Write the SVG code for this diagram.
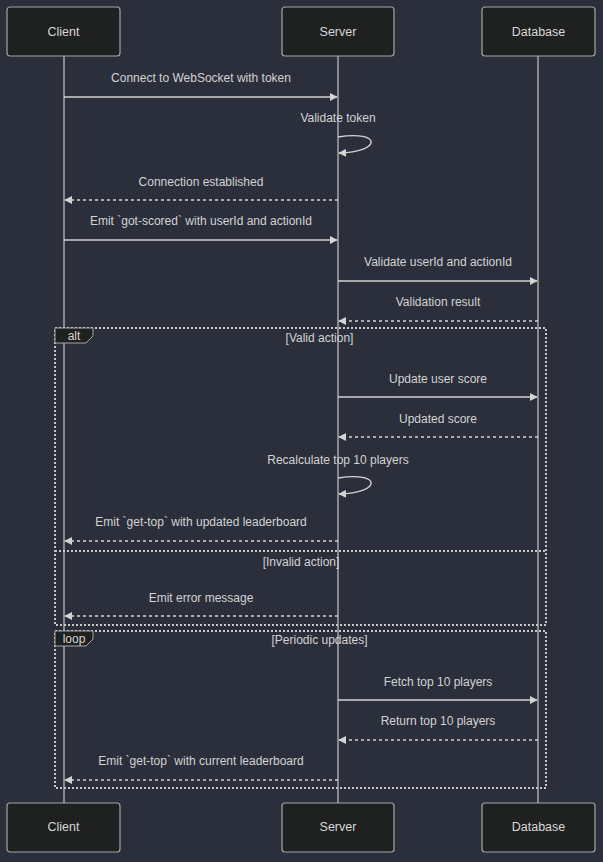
<svg xmlns="http://www.w3.org/2000/svg" width="603" height="862" viewBox="0 0 603 862">
  <style>
    .actor rect { fill: #1f2020; stroke: #a6a6a6; stroke-width: 1.2; }
    .actor text { fill: #d8d8d8; font-family: "Liberation Sans", Arial, sans-serif; font-size: 12.5px; text-anchor: middle; dominant-baseline: central; }
    .life { stroke: #a9a9a9; stroke-width: 1.5; }
    .msg { stroke: #d3d3d3; stroke-width: 1.4; fill: none; }
    .dash { stroke-dasharray: 3 3; }
    .lbl { fill: #d3d3d3; font-family: "Liberation Sans", Arial, sans-serif; font-size: 12px; text-anchor: middle; dominant-baseline: central; }
    .frame { fill: none; stroke: #c8c8c8; stroke-width: 2; stroke-dasharray: 2 2; }
    .tag { fill: #1f2020; stroke: #a6a6a6; stroke-width: 1; }
  </style>
  <defs>
    <marker id="head" viewBox="0 0 10 10" refX="9" refY="5" markerWidth="8" markerHeight="8" markerUnits="userSpaceOnUse" orient="auto">
      <path d="M0,0 L10,5 L0,10 z" fill="#d3d3d3"/>
    </marker>
  </defs>
  <rect width="603" height="862" fill="#2a2f3b"/>

  <!-- lifelines -->
  <g id="lifelines">
    <line class="life" x1="64" y1="56" x2="64" y2="803"/>
    <line class="life" x1="338" y1="56" x2="338" y2="803"/>
    <line class="life" x1="538" y1="56" x2="538" y2="803"/>
  </g>

  <!-- combined fragments -->
  <g id="alt-frame">
    <rect class="frame" x="55" y="328" width="491" height="297"/>
    <line class="frame" x1="55" y1="551" x2="546" y2="551"/>
    <path class="tag" d="M55,328 H93 V336 L86,343 H55 z"/>
    <text class="lbl" x="74" y="336">alt</text>
    <text class="lbl" x="319.5" y="338">[Valid action]</text>
    <text class="lbl" x="301" y="562">[Invalid action]</text>
  </g>
  <g id="loop-frame">
    <rect class="frame" x="55" y="631" width="491" height="157"/>
    <path class="tag" d="M55,631 H93 V639 L86,646 H55 z"/>
    <text class="lbl" x="74" y="639">loop</text>
    <text class="lbl" x="319.5" y="640">[Periodic updates]</text>
  </g>

  <!-- participants -->
  <g id="client-top" class="actor"><rect x="7" y="7" width="113" height="49" rx="3"/><text x="63.5" y="32">Client</text></g>
  <g id="server-top" class="actor"><rect x="282" y="7" width="112" height="49" rx="3"/><text x="338" y="32">Server</text></g>
  <g id="database-top" class="actor"><rect x="482" y="7" width="113" height="49" rx="3"/><text x="538.5" y="32">Database</text></g>
  <g id="client-bottom" class="actor"><rect x="7" y="803" width="113" height="49" rx="3"/><text x="63.5" y="827">Client</text></g>
  <g id="server-bottom" class="actor"><rect x="282" y="803" width="112" height="49" rx="3"/><text x="338" y="827">Server</text></g>
  <g id="database-bottom" class="actor"><rect x="482" y="803" width="113" height="49" rx="3"/><text x="538.5" y="827">Database</text></g>

  <!-- messages -->
  <g id="connectors">
    <line class="msg" x1="64" y1="97" x2="337" y2="97" marker-end="url(#head)"/>
    <path class="msg" d="M338,137 C382,130 382,152 339,153" marker-end="url(#head)"/>
    <line class="msg dash" x1="338" y1="200" x2="65" y2="200" marker-end="url(#head)"/>
    <line class="msg" x1="64" y1="240" x2="337" y2="240" marker-end="url(#head)"/>
    <line class="msg" x1="338" y1="281" x2="537" y2="281" marker-end="url(#head)"/>
    <line class="msg dash" x1="538" y1="321" x2="339" y2="321" marker-end="url(#head)"/>
    <line class="msg" x1="338" y1="397" x2="537" y2="397" marker-end="url(#head)"/>
    <line class="msg dash" x1="538" y1="437" x2="339" y2="437" marker-end="url(#head)"/>
    <path class="msg" d="M338,478 C382,471 382,493 339,494" marker-end="url(#head)"/>
    <line class="msg dash" x1="338" y1="541" x2="65" y2="541" marker-end="url(#head)"/>
    <line class="msg dash" x1="338" y1="616" x2="65" y2="616" marker-end="url(#head)"/>
    <line class="msg" x1="338" y1="700" x2="537" y2="700" marker-end="url(#head)"/>
    <line class="msg dash" x1="538" y1="740" x2="339" y2="740" marker-end="url(#head)"/>
    <line class="msg dash" x1="338" y1="780" x2="65" y2="780" marker-end="url(#head)"/>
  </g>

  <!-- message labels -->
  <g id="message-labels">
    <text class="lbl" x="201" y="78">Connect to WebSocket with token</text>
    <text class="lbl" x="338" y="118">Validate token</text>
    <text class="lbl" x="201" y="182">Connection established</text>
    <text class="lbl" x="201" y="221">Emit `got-scored` with userId and actionId</text>
    <text class="lbl" x="438" y="262">Validate userId and actionId</text>
    <text class="lbl" x="438" y="302">Validation result</text>
    <text class="lbl" x="438" y="379">Update user score</text>
    <text class="lbl" x="438" y="419">Updated score</text>
    <text class="lbl" x="338" y="460">Recalculate top 10 players</text>
    <text class="lbl" x="201" y="522">Emit `get-top` with updated leaderboard</text>
    <text class="lbl" x="201" y="598">Emit error message</text>
    <text class="lbl" x="438" y="682">Fetch top 10 players</text>
    <text class="lbl" x="438" y="721">Return top 10 players</text>
    <text class="lbl" x="201" y="761">Emit `get-top` with current leaderboard</text>
  </g>
</svg>
